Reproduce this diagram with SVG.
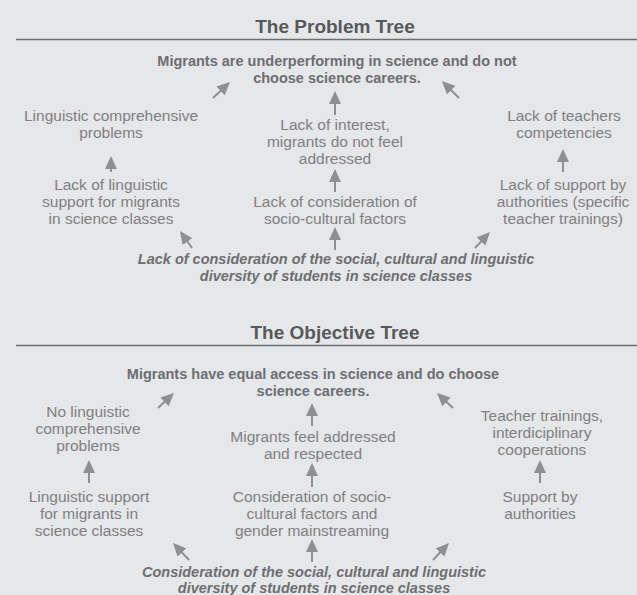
<svg xmlns="http://www.w3.org/2000/svg" width="637" height="595" viewBox="0 0 637 595">
<defs>
<marker id="ah" viewBox="0 0 13 12" refX="10" refY="6" markerWidth="13" markerHeight="12" markerUnits="userSpaceOnUse" orient="auto">
<path d="M0,0 L13,6 L0,12 z" fill="#8e8f91"/>
</marker>
<style>
.t{font-family:"Liberation Sans",Arial,sans-serif;text-anchor:middle}
.title{font-size:19px;font-weight:bold;fill:#58595b}
.b{font-size:14.5px;font-weight:bold;fill:#6d6e71}
.bi{font-size:14.5px;font-weight:bold;font-style:italic;fill:#6d6e71}
.r{font-size:15.5px;fill:#7f8083}
.hl{stroke:#6d6e71;stroke-width:1.5}
.c line{stroke:#8e8f91;stroke-width:2;marker-end:url(#ah)}
</style>
</defs>
<rect width="637" height="595" fill="#e6e7e8"/>

<g id="problem-title" class="t">
<text class="title" x="335" y="33">The Problem Tree</text>
<line class="hl" x1="16" y1="39.5" x2="637" y2="39.5"/>
</g>
<g id="p-top" class="t">
<text class="b" x="337" y="66">Migrants are underperforming in science and do not</text>
<text class="b" x="337" y="83">choose science careers.</text>
</g>
<g id="p-l1" class="t">
<text class="r" x="111" y="121">Linguistic comprehensive</text>
<text class="r" x="111" y="138">problems</text>
</g>
<g id="p-c1" class="t">
<text class="r" x="335" y="130">Lack of interest,</text>
<text class="r" x="335" y="147">migrants do not feel</text>
<text class="r" x="335" y="164">addressed</text>
</g>
<g id="p-r1" class="t">
<text class="r" x="564" y="121">Lack of teachers</text>
<text class="r" x="564" y="138">competencies</text>
</g>
<g id="p-l2" class="t">
<text class="r" x="111" y="190">Lack of linguistic</text>
<text class="r" x="111" y="207">support for migrants</text>
<text class="r" x="111" y="224">in science classes</text>
</g>
<g id="p-c2" class="t">
<text class="r" x="335" y="207">Lack of consideration of</text>
<text class="r" x="335" y="224">socio-cultural factors</text>
</g>
<g id="p-r2" class="t">
<text class="r" x="563" y="190">Lack of support by</text>
<text class="r" x="563" y="207">authorities (specific</text>
<text class="r" x="563" y="224">teacher trainings)</text>
</g>
<g id="p-root" class="t">
<text class="bi" x="336" y="264">Lack of consideration of the social, cultural and linguistic</text>
<text class="bi" x="336" y="281">diversity of students in science classes</text>
</g>

<g id="objective-title" class="t">
<text class="title" x="335" y="339">The Objective Tree</text>
<line class="hl" x1="16" y1="345.5" x2="637" y2="345.5"/>
</g>
<g id="o-top" class="t">
<text class="b" x="313" y="379">Migrants have equal access in science and do choose</text>
<text class="b" x="313" y="396">science careers.</text>
</g>
<g id="o-l1" class="t">
<text class="r" x="88" y="417">No linguistic</text>
<text class="r" x="88" y="434">comprehensive</text>
<text class="r" x="88" y="451">problems</text>
</g>
<g id="o-c1" class="t">
<text class="r" x="313" y="442">Migrants feel addressed</text>
<text class="r" x="313" y="459">and respected</text>
</g>
<g id="o-r1" class="t">
<text class="r" x="542" y="421">Teacher trainings,</text>
<text class="r" x="542" y="438">interdiciplinary</text>
<text class="r" x="542" y="455">cooperations</text>
</g>
<g id="o-l2" class="t">
<text class="r" x="89" y="502">Linguistic support</text>
<text class="r" x="89" y="519">for migrants in</text>
<text class="r" x="89" y="536">science classes</text>
</g>
<g id="o-c2" class="t">
<text class="r" x="312" y="502">Consideration of socio-</text>
<text class="r" x="312" y="519">cultural factors and</text>
<text class="r" x="312" y="536">gender mainstreaming</text>
</g>
<g id="o-r2" class="t">
<text class="r" x="540" y="502">Support by</text>
<text class="r" x="540" y="519">authorities</text>
</g>
<g id="o-root" class="t">
<text class="bi" x="314" y="577">Consideration of the social, cultural and linguistic</text>
<text class="bi" x="314" y="593">diversity of students in science classes</text>
</g>

<g id="connectors" class="c">
<line x1="213" y1="98" x2="227.8" y2="84.1"/>
<line x1="335" y1="115" x2="335" y2="94"/>
<line x1="459" y1="98" x2="444.1" y2="83.1"/>
<line x1="111" y1="172" x2="111" y2="159"/>
<line x1="335" y1="192" x2="335" y2="172"/>
<line x1="563" y1="172" x2="563" y2="152"/>
<line x1="192" y1="248" x2="181.7" y2="233.5"/>
<line x1="335" y1="250" x2="335" y2="230"/>
<line x1="475" y1="248" x2="487.9" y2="234.2"/>

<line x1="158" y1="408" x2="171.8" y2="395.1"/>
<line x1="312" y1="426" x2="312" y2="406"/>
<line x1="453" y1="408" x2="439.2" y2="395.1"/>
<line x1="89" y1="483" x2="89" y2="463"/>
<line x1="312" y1="487" x2="312" y2="466"/>
<line x1="540" y1="483" x2="540" y2="463"/>
<line x1="189" y1="560" x2="175.1" y2="545.2"/>
<line x1="312" y1="562" x2="312" y2="542"/>
<line x1="433" y1="560" x2="446.9" y2="545.2"/>
</g>
</svg>
